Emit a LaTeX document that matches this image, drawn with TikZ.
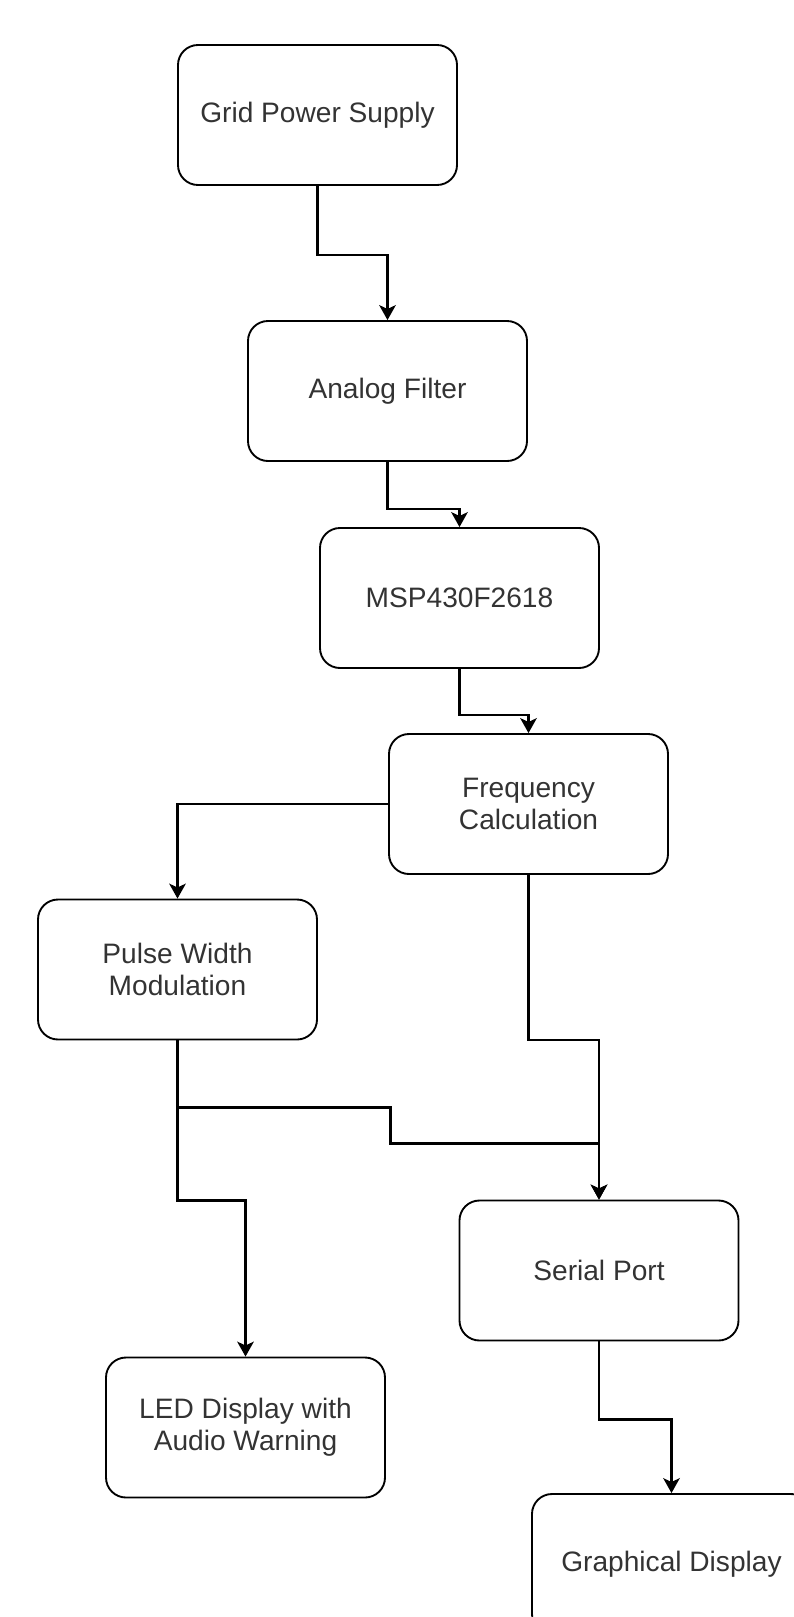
\documentclass[tikz,border=0pt]{standalone}
\usepackage{fontspec}
\setmainfont{Liberation Sans}
\usetikzlibrary{arrows.meta}

\begin{document}
\begin{tikzpicture}[
    x=0.03cm, y=-0.03cm,
    block/.style={draw, line width=1.6pt, rounded corners=0.6cm, minimum width=8.37cm, minimum height=4.2cm,
      align=center, text=black!80, font=\fontsize{24}{27}\selectfont},
    conn/.style={-{Stealth[length=0.45cm, width=0.5cm, inset=0.12cm]}, line width=1.8pt}
  ]
    \useasboundingbox (0,0) rectangle (794,1617);

    \node[block] (grid)   at (317.5,115)  {Grid Power Supply};
    \node[block] (analog) at (387.5,391)  {Analog Filter};
    \node[block] (msp)    at (459.5,598)  {MSP430F2618};
    \node[block] (freq)   at (528.5,804)  {Frequency\\Calculation};
    \node[block] (pwm)    at (177.5,969.5) {Pulse Width\\Modulation};
    \node[block] (serial) at (599,1270.5) {Serial Port};
    \node[block] (led)    at (245.5,1427.5) {LED Display with\\Audio Warning};
    \node[block] (graph)  at (671.5,1564) {Graphical Display};

    % main chain
    \draw[conn] (grid.south) -- ++(0,69) -| (analog.north);
    \draw[conn] (analog.south) -- ++(0,47) -| (msp.north);
    \draw[conn] (msp.south) -- ++(0,46) -| (freq.north);
    \draw[conn] (freq.west) -| (pwm.north);
    \draw[conn] (freq.south) -- ++(0,165) -| (serial.north);

    % outputs of the pwm block
    \draw[conn] (pwm.south) -- ++(0,67) -- ++(213,0) -- ++(0,36) -| (serial.north);
    \draw[conn] (pwm.south) -- ++(0,160) -| (led.north);

    \draw[conn] (serial.south) -- ++(0,78) -| (graph.north);
  \end{tikzpicture}
\end{document}
